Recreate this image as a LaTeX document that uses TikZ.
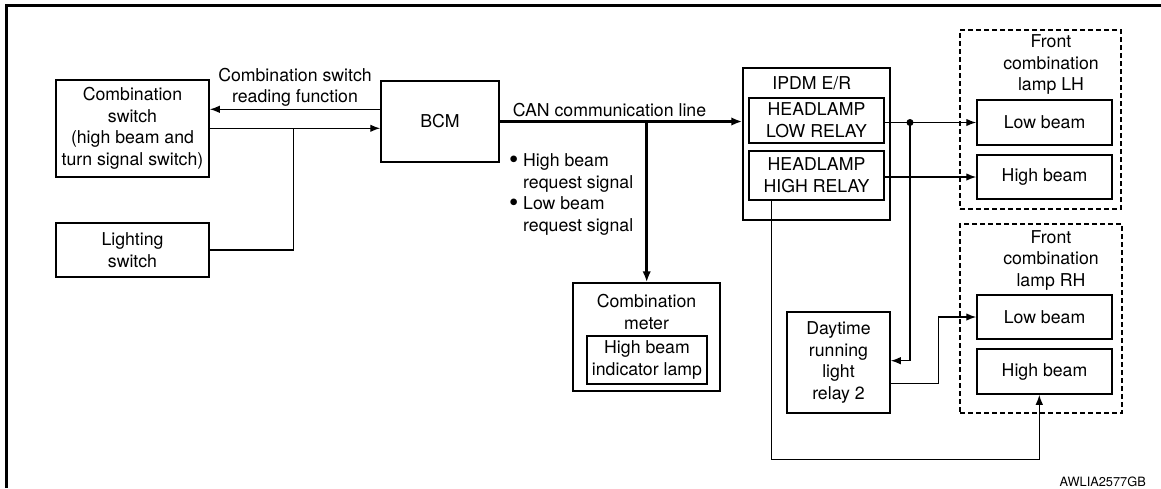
\documentclass[tikz,border=0pt]{standalone}
\usepackage{fontspec}
\setmainfont{TeX Gyre Heros}
\usetikzlibrary{arrows.meta}
\newcommand{\bigdot}{\raisebox{-1.5pt}{\scalebox{1.5}{\textbullet}}}
\begin{document}
\begin{tikzpicture}[x=1pt,y=-1pt,
  every node/.style={font=\fontsize{17.7}{21.6}\selectfont, inner sep=0pt},
  box/.style={draw, line width=1.5pt, align=center},
  group/.style={draw, line width=1.4pt, dash pattern=on 5pt off 3pt},
  wire/.style={line width=1.4pt},
  arr/.style={wire, -{Latex[length=10pt,width=7.5pt]}},
  bus/.style={line width=2.7pt, -{Latex[length=11pt,width=8.5pt]}},
  title/.style={align=center},
  code/.style={font=\fontsize{12.8}{14}\selectfont, anchor=east}]
\useasboundingbox (0,0) rectangle (1161,488);

% frame edges (left and top)
\draw[line width=3pt] (6.5,488) -- (6.5,5.5) -- (1161,5.5);

% switches and BCM
\node[box, minimum width=153pt, minimum height=97pt] (combsw) at (132.5,128.5)
  {Combination\\switch\\(high beam and\\turn signal switch)};
\node[box, minimum width=153pt, minimum height=54pt] (light) at (132.5,250)
  {Lighting\\switch};
\node[box, minimum width=118pt, minimum height=81pt] (bcm) at (440,121.5) {BCM};

% combination meter
\node[box, minimum width=147pt, minimum height=108pt] (meter) at (646.5,337) {};
\node[title] (metert) at (646.5,312.2) {Combination\\meter};
\node[box, line width=1.3pt, minimum width=120pt, minimum height=48pt] (hbind) at (647,360)
  {High beam\\indicator lamp};

% IPDM E/R
\node[box, minimum width=147pt, minimum height=152pt] (ipdm) at (816.5,144) {};
\node (ipdmt) at (811.7,83.3) {IPDM E/R};
\node[box, line width=1.3pt, minimum width=135pt, minimum height=45pt] (lowrel) at (816.5,120.5)
  {HEADLAMP\\LOW RELAY};
\node[box, line width=1.3pt, minimum width=135pt, minimum height=49pt] (highrel) at (816.5,175.5)
  {HEADLAMP\\HIGH RELAY};

% daytime running light relay
\node[box, minimum width=103pt, minimum height=101pt] (drl) at (838.5,362.5)
  {Daytime\\running\\light\\relay 2};

% front combination lamps
\node[group, minimum width=161pt, minimum height=179pt] (lh) at (1040.5,119.5) {};
\node[title] (lht) at (1051,64.7) {Front\\combination\\lamp LH};
\node[box, minimum width=135pt, minimum height=45pt] (lhlow) at (1044.5,122.5) {Low beam};
\node[box, minimum width=135pt, minimum height=44pt] (lhhigh) at (1044.5,177) {High beam};

\node[group, minimum width=162pt, minimum height=189pt] (rh) at (1041,318.5) {};
\node[title] (rht) at (1051,260.3) {Front\\combination\\lamp RH};
\node[box, minimum width=135pt, minimum height=44pt] (rhlow) at (1044.5,317) {Low beam};
\node[box, minimum width=135pt, minimum height=45pt] (rhhigh) at (1044.5,371.5) {High beam};

% labels
\node[title] (readlbl) at (295,87.5) {Combination switch\\reading function};
\node (canlbl) at (609.5,110) {CAN communication line};
\node[anchor=west, align=left] (reqlbl) at (509,194.5)
  {\makebox[14pt][l]{\bigdot}High beam\\\hspace*{14pt}request signal\\
   \makebox[14pt][l]{\bigdot}Low beam\\\hspace*{14pt}request signal};
\node[code] (figid) at (1146,482) {AWLIA2577GB};

% helper points
\coordinate (yA) at (0,109.3);
\coordinate (yB) at (0,128.3);
\coordinate (jL) at (293.3,128.3);
\coordinate (canj) at (646.7,121.5);
\coordinate (yC) at (0,360.7);
\coordinate (hx) at (771.7,459.3);
\coordinate (hy) at (1039.3,459.3);
\coordinate (dA) at (938.3,383.3);
\node[circle, fill, minimum size=7pt] (dot) at (910,122.5) {};

% connectors
\draw[arr] (bcm.west |- yA) -- (combsw.east |- yA);
\draw[arr] (combsw.east |- yB) -- (bcm.west |- yB);
\draw[wire] (light.east) -| (jL);

\draw[bus] (bcm.east) -- (ipdm.west |- bcm.east);
\draw[bus] (canj) -- (meter.north -| canj);

\draw[arr] (lowrel.east |- lhlow.west) -- (lhlow.west);
\draw[arr] (dot.center) |- (drl.east |- yC);
\draw[arr] (highrel.east |- lhhigh.west) -- (lhhigh.west);
\draw[arr] (highrel.south -| hx) -- (hx) -- (hy) -- (rhhigh.south -| hy);
\draw[arr] (drl.east |- dA) -- (dA) |- (rhlow.west);
\end{tikzpicture}
\end{document}
